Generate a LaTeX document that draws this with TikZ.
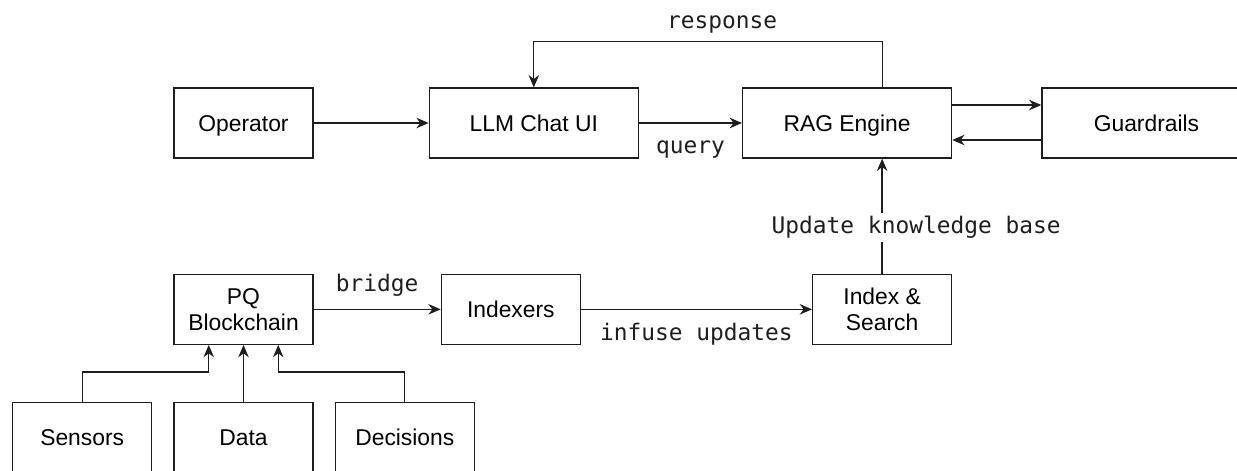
\documentclass[tikz,border=0pt]{standalone}
\usepackage{fontspec}
\setmainfont{Liberation Sans}
\setmonofont{DejaVu Sans Mono}
\usepackage{tikz}
\usetikzlibrary{positioning, arrows.meta}
\definecolor{edge}{RGB}{30, 30, 30}

\begin{document}
\begin{tikzpicture}[
        box/.style={rectangle, draw=edge, line width=0.75pt, fill=white, minimum width=2.78cm, minimum height=1.4cm, text centered, font=\fontsize{13}{15}\selectfont, inner sep=2pt, text height=1.2em, text depth=0.28em},
        twoline/.style={box, align=center, text height=, text depth=},
        widebox/.style={box, minimum width=4.18cm},
        flow/.style={-{Stealth[length=7pt, width=6pt]}, line width=0.75pt, edge},
        tag/.style={font=\fontsize{13}{15}\selectfont\ttfamily, inner sep=1pt}
    ]
        \useasboundingbox (0,0) rectangle (24.74,-9.4);

        % top row
        \node (operator) [box] at (4.87,-2.46) {Operator};
        \node (chat) [widebox, right=2.3cm of operator] {LLM Chat UI};
        \node (rag) [widebox, right=2.06cm of chat] {RAG Engine};
        \node (guard) [widebox, right=1.78cm of rag] {Guardrails};

        % bottom row
        \node (chain) [twoline, below=2.3cm of operator] {PQ\\Blockchain};
        \node (indexers) [box, right=2.54cm of chain] {Indexers};
        \node (search) [twoline, right=4.62cm of indexers] {Index \&\\Search};

        \node (data) [box, below=1.14cm of chain] {Data};
        \node (sensors) [box, left=0.42cm of data] {Sensors};
        \node (decisions) [box, right=0.42cm of data] {Decisions};

        \draw[flow] (operator) -- (chat);
        \draw[flow] (chat) -- node[tag, below=0.3cm] {query} (rag);
        \draw[flow] ([yshift=0.36cm]rag.east) -- ([yshift=0.36cm]guard.west);
        \draw[flow] ([yshift=-0.34cm]guard.west) -- ([yshift=-0.34cm]rag.east);
        \draw[flow] ([xshift=0.71cm]rag.north) -- ++(0,0.92) -| (chat.north)
            node[tag, pos=0.23, above=0.12cm] {response};

        \draw[flow] (chain) -- node[tag, above=0.22cm] {bridge} (indexers);
        \draw[flow] (indexers) -- node[tag, below=0.22cm] {infuse updates} (search);
        \draw[flow] (search) -- node[tag, fill=white, pos=0.4, xshift=0.68cm, inner sep=2pt] {Update knowledge base} (rag.south -| search.north);

        \draw[flow] (sensors.north) -- ++(0,0.6) -| ([xshift=-0.695cm]chain.south);
        \draw[flow] (data) -- (chain);
        \draw[flow] (decisions.north) -- ++(0,0.6) -| ([xshift=0.695cm]chain.south);
\end{tikzpicture}
\end{document}
